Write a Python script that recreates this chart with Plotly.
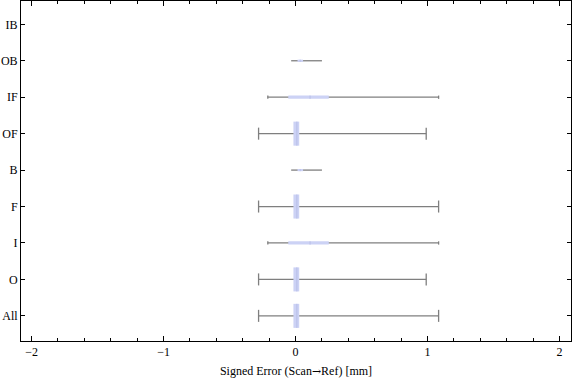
import plotly.graph_objects as go

categories = ["All", "O", "I", "F", "B", "OF", "IF", "OB", "IB"]
whisker_lo = [-0.28, -0.28, -0.21, -0.28, -0.033, -0.28, -0.21, -0.033, None]
whisker_hi = [1.084, 0.99, 1.084, 1.084, 0.20, 0.99, 1.084, 0.20, None]
q1 = [-0.016, -0.016, -0.055, -0.016, 0.015, -0.016, -0.055, 0.015, None]
q3 = [0.028, 0.028, 0.252, 0.028, 0.057, 0.028, 0.252, 0.057, None]
medians = [0.01, 0.01, 0.11, 0.01, 0.035, 0.01, 0.11, 0.035, None]
box_height = [0.66, 0.66, 0.09, 0.66, 0.06, 0.66, 0.09, 0.06, 0]
cap_height = [0.33, 0.33, 0.09, 0.33, 0.0, 0.33, 0.09, 0.0, 0]

BOX_COLOR = "#ccd2f5"
WHISKER_COLOR = "#7f7f7f"
MEDIAN_COLOR = "#b8bee6"

ypos = list(range(len(categories)))

# whisker lines and caps
wx, wy = [], []
for i, (lo, hi) in enumerate(zip(whisker_lo, whisker_hi)):
    if lo is None:
        continue
    wx += [lo, hi, None]
    wy += [i, i, None]
    h = cap_height[i] / 2
    if h > 0:
        for v in (lo, hi):
            wx += [v, v, None]
            wy += [i - h, i + h, None]

fig = go.Figure()
fig.add_trace(go.Scatter(x=wx, y=wy, mode="lines",
                         line=dict(color=WHISKER_COLOR, width=1.3),
                         hoverinfo="skip", showlegend=False))

# boxes as filled polygons (drawn above whiskers)
for i in ypos:
    if q1[i] is None:
        continue
    h = box_height[i] / 2
    fig.add_trace(go.Scatter(
        x=[q1[i], q3[i], q3[i], q1[i], q1[i]],
        y=[i - h, i - h, i + h, i + h, i - h],
        mode="lines", fill="toself", fillcolor=BOX_COLOR,
        line=dict(width=0, color=BOX_COLOR),
        hoverinfo="skip", showlegend=False))

mx, my = [], []
for i in ypos:
    if medians[i] is None:
        continue
    h = box_height[i] / 2
    mx += [medians[i], medians[i], None]
    my += [i - h, i + h, None]
fig.add_trace(go.Scatter(x=mx, y=my, mode="lines",
                         line=dict(color=MEDIAN_COLOR, width=1),
                         hoverinfo="skip", showlegend=False))

font = dict(family="Liberation Serif", size=12, color="#000000")
x_title = ("Signed Error (Scan<span style=\"font-family:'DejaVu Serif';"
           "font-size:11px\">→</span>Ref) [mm]")

fig.update_layout(
    width=576, height=381,
    margin=dict(l=21, r=5, t=1, b=40),
    plot_bgcolor="white", paper_bgcolor="white",
    font=font,
    xaxis=dict(
        range=[-2.08, 2.087],
        tickvals=[-2, -1, 0, 1, 2],
        ticks="inside", ticklen=5, tickcolor="black", tickwidth=1,
        minor=dict(dtick=0.2, tick0=0, ticks="inside", ticklen=3,
                   tickcolor="black", tickwidth=1, showgrid=False),
        showline=True, linecolor="black", linewidth=1, mirror="allticks",
        showgrid=False, zeroline=False,
        tickfont=font,
        title=dict(text=x_title, font=font, standoff=8),
    ),
    yaxis=dict(
        range=[-0.69, 8.64],
        tickvals=ypos, ticktext=categories,
        ticks="inside", ticklen=4, tickcolor="black", tickwidth=1,
        showline=True, linecolor="black", linewidth=1, mirror="allticks",
        showgrid=False, zeroline=False,
        tickfont=font,
    ),
)

fig.write_html("out.html", config={"displayModeBar": False},
               post_script="document.body.style.margin='0px';")
